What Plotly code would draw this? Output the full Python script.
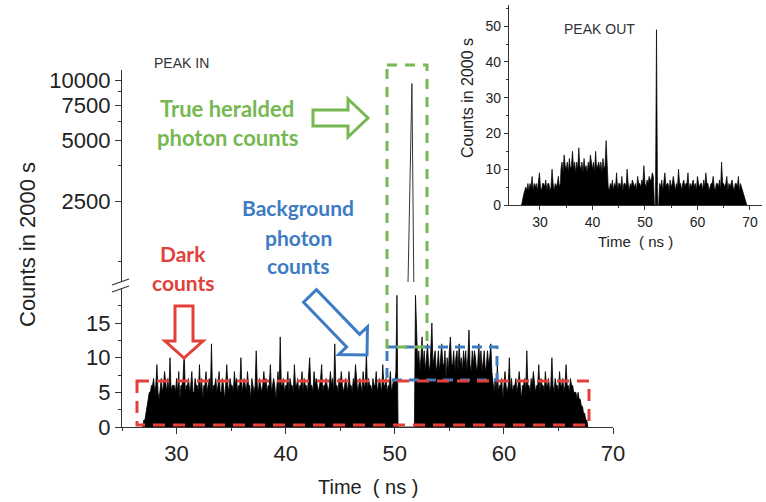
import numpy as np
import plotly.graph_objects as go

W, H = 766, 502


def fx(x):
    return x / W


def fy(y):
    return 1 - y / H


# ---------------- data : main panel "PEAK IN" (0.1 ns bins) ----------------
main_step = 0.1
main_seg_start = [26.9, 27.8, 50.2, 52.0, 59.0, 66.5]
main_rise = [0, 1, 1, 2, 3, 4, 5, 5, 6]
main_dark = [
    6, 7, 5, 6, 9, 5, 4, 6, 7, 5, 6, 8, 6, 5, 7, 5, 10, 5, 6, 6,
    6, 5, 7, 5, 8, 4, 6, 6, 7, 11, 5, 6, 6, 7, 5, 6, 8, 5, 5, 7,
    6, 6, 5, 9, 5, 7, 4, 6, 6, 8, 5, 6, 7, 5, 12, 5, 6, 6, 7, 5,
    6, 8, 5, 5, 7, 6, 4, 6, 9, 6, 5, 7, 6, 6, 5, 8, 6, 7, 5, 6,
    6, 10, 5, 6, 7, 6, 5, 8, 6, 6, 4, 7, 6, 5, 6, 11, 6, 5, 7, 6,
    5, 6, 8, 6, 7, 5, 6, 6, 9, 5, 6, 7, 6, 4, 6, 8, 5, 13, 6, 6,
    7, 5, 6, 6, 8, 5, 7, 6, 6, 5, 9, 6, 6, 7, 5, 6, 6, 8, 5, 7,
    6, 6, 5, 7, 10, 6, 6, 5, 8, 6, 7, 6, 5, 6, 7, 9, 5, 6, 6, 7,
    6, 5, 6, 8, 6, 7, 5, 12, 6, 6, 5, 7, 6, 8, 6, 5, 6, 7, 6, 5,
    8, 6, 6, 5, 7, 6, 9, 6, 5, 6, 7, 6, 5, 8, 6, 6, 11, 5, 7, 6,
    6, 5, 7, 6, 6, 8, 5, 6, 7, 6, 5, 9, 6, 6, 7, 5, 6, 6, 8, 5,
    6, 7, 6, 8,
]
main_gap = [19, 0, 0, 0, 0, 0, 0, 0, 0, 0, 0, 0, 0, 0, 0, 0, 0, 19]
main_bg = [
    14, 9, 11, 8, 10, 13, 9, 11, 8, 10, 12, 9, 8, 11, 15, 9, 10, 11, 8, 9,
    11, 8, 10, 12, 9, 9, 11, 7, 10, 8, 11, 13, 9, 9, 11, 8, 10, 11, 8, 12,
    9, 10, 8, 11, 9, 11, 8, 10, 14, 9, 8, 11, 9, 11, 10, 8, 9, 12, 9, 11,
    8, 10, 11, 8, 9, 11, 9, 10, 12, 8,
]
main_tail = [
    6, 5, 7, 5, 9, 5, 6, 6, 7, 4, 6, 8, 6, 5, 6, 10, 5, 7, 5, 6,
    6, 7, 5, 6, 8, 5, 4, 6, 6, 7, 5, 11, 6, 6, 5, 7, 6, 8, 6, 5,
    6, 6, 9, 5, 7, 6, 6, 5, 8, 6, 6, 7, 5, 6, 10, 6, 5, 7, 6, 6,
    5, 8, 6, 6, 7, 5, 6, 9, 6, 6, 5, 7, 6, 6, 5,
]
main_fall = [5, 5, 4, 5, 4, 4, 3, 3, 2, 2, 1, 1, 0]
main_segments = [main_rise, main_dark, main_gap, main_bg, main_tail, main_fall]

# heralded peak (upper, log part of the broken axis)
peak_time = [51.2, 51.57, 51.75]
peak_counts = [900, 9600, 900]

# ---------------- data : inset "PEAK OUT" (0.2 ns bins) ----------------
inset_step = 0.2
inset_seg_start = [26.5, 27.5, 34.0, 43.0, 51.8, 52.8, 68.6]
inset_rise = [0, 2, 3, 4, 5]
inset_a = [4, 6, 4, 6, 5, 8, 4, 6, 5, 6, 4, 6, 9, 5, 4, 6, 6, 5, 7, 4,
           6, 6, 4, 5, 10, 6, 4, 6, 5, 6, 8, 5, 6]
inset_b = [10, 12, 9, 14, 11, 10, 12, 9, 13, 10, 11, 15, 10, 12, 9, 12, 10, 16, 11, 10,
           12, 9, 13, 10, 11, 9, 12, 10, 14, 11, 10, 12, 9, 15, 10, 11, 12, 10, 12, 9,
           13, 10, 11, 18, 10]
inset_c = [5, 4, 6, 5, 7, 4, 6, 5, 9, 4, 6, 6, 5, 8, 4, 6, 6, 5, 10, 6,
           4, 6, 5, 7, 6, 5, 6, 4, 8, 6, 6, 5, 7, 6, 11, 6, 5, 7, 6, 8,
           7, 7, 9, 8]
inset_peak = [0, 0, 49, 0, 0]
inset_d = [6, 5, 7, 4, 6, 9, 5, 6, 6, 4, 7, 5, 6, 8, 6, 4, 6, 5, 10, 6,
           6, 4, 6, 7, 5, 6, 6, 9, 4, 6, 5, 6, 7, 5, 6, 4, 8, 6, 5, 6,
           6, 4, 7, 5, 9, 6, 6, 4, 5, 6, 6, 8, 5, 4, 6, 6, 5, 7, 4, 12,
           6, 6, 5, 6, 8, 4, 6, 5, 6, 7, 5, 4, 6, 6, 5, 8, 4, 6, 5]
inset_fall = [4, 3, 2, 1, 0]
inset_segments = [inset_rise, inset_a, inset_b, inset_c, inset_peak, inset_d, inset_fall]

# tick labels
main_xticks = [30, 40, 50, 60, 70]
main_yticks_low = [0, 5, 10, 15]
main_yticks_high = [2500, 5000, 7500, 10000]
inset_xticks = [30, 40, 50, 60, 70]
inset_yticks = [0, 10, 20, 30, 40, 50]


def build(starts, segs, step):
    xs, ys = [], []
    for s, seg in zip(starts, segs):
        xs.extend((s + step * np.arange(len(seg))).round(3).tolist())
        ys.extend(seg)
    return xs, ys


mx, my = build(main_seg_start, main_segments, main_step)
ix, iy = build(inset_seg_start, inset_segments, inset_step)

fig = go.Figure()
fig.add_trace(go.Scatter(x=mx, y=my, mode="lines", line=dict(color="black", width=0.8),
                         fill="tozeroy", fillcolor="black", xaxis="x", yaxis="y",
                         showlegend=False, hoverinfo="skip"))
fig.add_trace(go.Scatter(x=peak_time, y=peak_counts, mode="lines",
                         line=dict(color="#333", width=1), xaxis="x", yaxis="y2",
                         showlegend=False, hoverinfo="skip"))
fig.add_trace(go.Scatter(x=ix, y=iy, mode="lines", line=dict(color="black", width=0.7),
                         fill="tozeroy", fillcolor="black", xaxis="x3", yaxis="y3",
                         showlegend=False, hoverinfo="skip"))

AX = "#333"
TF = "Liberation Sans, Arial, sans-serif"
common = dict(showline=True, linecolor=AX, linewidth=1.2, ticks="outside", tickcolor=AX,
              tickwidth=1.2, showgrid=False, zeroline=False, automargin=False)

fig.update_layout(
    width=W, height=H, margin=dict(l=0, r=0, t=0, b=0),
    paper_bgcolor="white", plot_bgcolor="rgba(0,0,0,0)",
    xaxis=dict(domain=[fx(122), fx(613)], range=[25, 70], anchor="y", ticklen=6,
               tickmode="array", tickvals=main_xticks,
               tickfont=dict(family=TF, size=22, color="#222"),
               minor=dict(ticks="outside", ticklen=3, tickmode="array",
                          tickvals=[25, 35, 45, 55, 65], tickcolor=AX), **common),
    yaxis=dict(domain=[fy(427), fy(288)], range=[0, 20.06], anchor="x", ticklen=6,
               tickmode="array", tickvals=main_yticks_low,
               tickfont=dict(family=TF, size=22, color="#222"),
               minor=dict(ticks="outside", ticklen=3, tickmode="array",
                          tickvals=[2.5, 7.5, 12.5, 17.5], tickcolor=AX), **common),
    yaxis2=dict(domain=[fy(282), fy(70)], type="log", range=[2.995, 4.05], anchor="x",
                ticklen=6, tickmode="array", tickvals=main_yticks_high,
                ticktext=[str(v) for v in main_yticks_high],
                tickfont=dict(family=TF, size=22, color="#222"),
                minor=dict(ticks="outside", ticklen=3, tickmode="array",
                           tickvals=[1250, 3750, 6250, 8750], tickcolor=AX), **common),
    xaxis3=dict(domain=[fx(509), fx(762)], range=[24.1, 72.3], anchor="y3", ticklen=4,
                tickmode="array", tickvals=inset_xticks,
                tickfont=dict(family=TF, size=14, color="#222"),
                minor=dict(ticks="outside", ticklen=2, tickmode="array",
                           tickvals=[35, 45, 55, 65], tickcolor=AX), **common),
    yaxis3=dict(domain=[fy(205), fy(5)], range=[0, 55.9], anchor="x3", ticklen=4,
                tickmode="array", tickvals=inset_yticks,
                tickfont=dict(family=TF, size=14, color="#222"),
                minor=dict(ticks="outside", ticklen=2, tickmode="array",
                           tickvals=[5, 15, 25, 35, 45, 55], tickcolor=AX), **common),
)

GREEN = "#76b852"
BLUE = "#3d7cc4"
RED = "#e2413a"
LF = "Lato, Open Sans, sans-serif"

ann = []


def text(x, y, s, size, color, family=TF, bold=False, angle=0, xanchor="center"):
    ann.append(dict(x=fx(x), y=fy(y), xref="paper", yref="paper", text=f"<b>{s}</b>" if bold else s,
                    showarrow=False, font=dict(family=family, size=size, color=color),
                    textangle=angle, xanchor=xanchor, yanchor="middle"))


text(27, 245, "Counts in 2000 s", 22, "#222", angle=-90)
text(368, 487, "Time  ( ns )", 20, "#222")
text(152, 63, "PEAK IN", 14, "#333", xanchor="left")
text(562, 29, "PEAK OUT", 14, "#333", xanchor="left")
text(467, 98, "Counts in 2000 s", 16, "#222", angle=-90)
text(635, 241, "Time  ( ns )", 15, "#222")
text(227, 108, "True heralded", 22, GREEN, family=LF, bold=True)
text(227, 137, "photon counts", 22, GREEN, family=LF, bold=True)
text(298, 207, "Background", 21, BLUE, family=LF, bold=True)
text(298, 237, "photon", 21, BLUE, family=LF, bold=True)
text(298, 265, "counts", 21, BLUE, family=LF, bold=True)
text(183, 253, "Dark", 21, RED, family=LF, bold=True)
text(183, 282, "counts", 21, RED, family=LF, bold=True)

shapes = []


def rect(x0, y0, x1, y1, color, dash):
    shapes.append(dict(type="rect", xref="paper", yref="paper", x0=fx(x0), x1=fx(x1),
                       y0=fy(y0), y1=fy(y1), line=dict(color=color, width=3, dash=dash),
                       fillcolor="rgba(0,0,0,0)", layer="above"))


def arrow(tail, tip, w, h, hl, color):
    tx, ty = tail
    px, py = tip
    L = np.hypot(px - tx, py - ty)
    ux, uy = (px - tx) / L, (py - ty) / L
    nx, ny = -uy, ux
    bx, by = px - ux * hl, py - uy * hl
    pts = [(tx + nx * w, ty + ny * w), (bx + nx * w, by + ny * w), (bx + nx * h, by + ny * h),
           (px, py), (bx - nx * h, by - ny * h), (bx - nx * w, by - ny * w), (tx - nx * w, ty - ny * w)]
    path = "M " + " L ".join(f"{fx(a):.5f},{fy(b):.5f}" for a, b in pts) + " Z"
    shapes.append(dict(type="path", xref="paper", yref="paper", path=path,
                       line=dict(color=color, width=3), fillcolor="white", layer="above"))


rect(387, 347, 497, 380, BLUE, "10px,7px")
rect(137, 381, 589, 425, RED, "12px,8px")
rect(387, 65, 427, 347, GREEN, "10px,8px")

arrow((313, 118), (368, 118), 8, 19, 20, GREEN)
arrow((184, 306), (184, 358), 9, 19, 17, RED)
arrow((310, 296), (367, 355), 9, 20, 20, BLUE)

# axis break marks
for yb in (0, 7):
    shapes.append(dict(type="line", xref="paper", yref="paper",
                       x0=fx(112), y0=fy(285 + yb), x1=fx(129), y1=fy(279 + yb),
                       line=dict(color=AX, width=1.3)))

fig.update_layout(annotations=ann, shapes=shapes)
fig.write_html("out.html")
